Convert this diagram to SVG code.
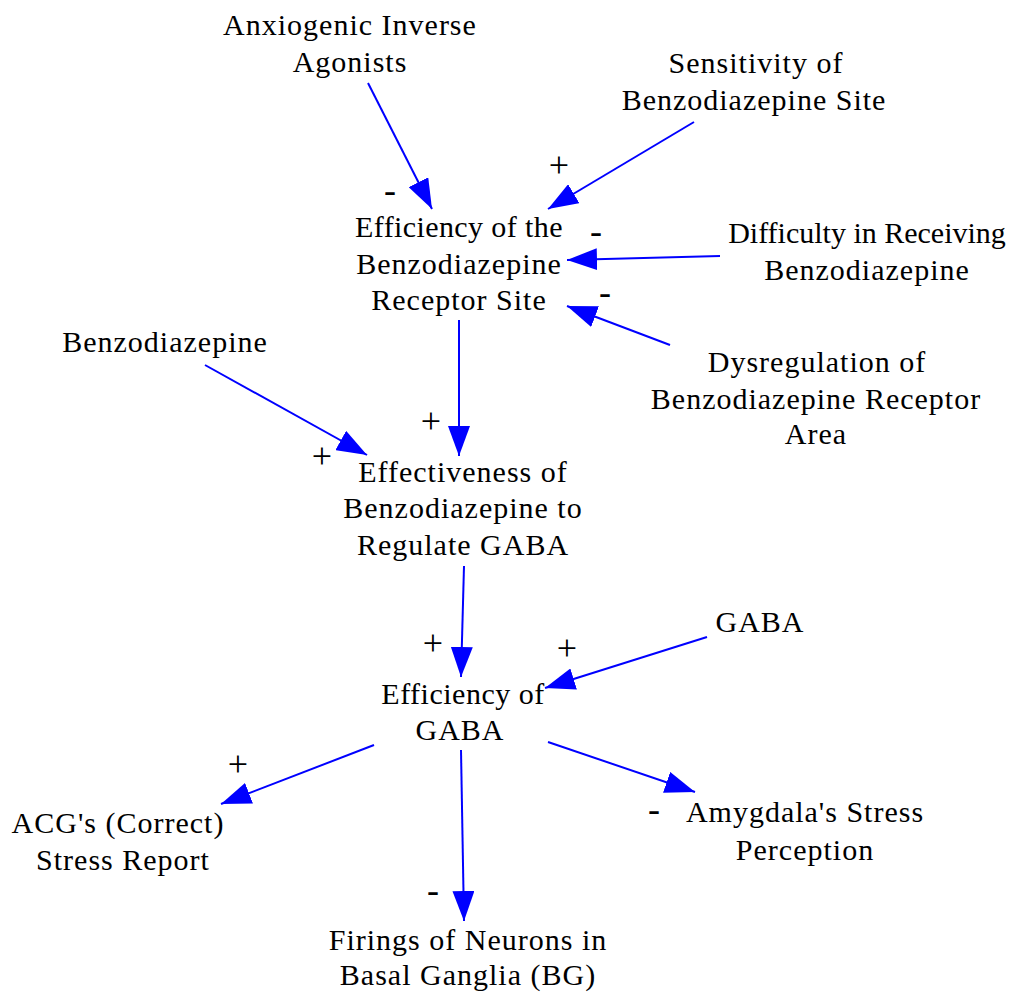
<svg xmlns="http://www.w3.org/2000/svg" width="1013" height="993" viewBox="0 0 1013 993">
<style>
.n{font-family:"Liberation Serif","Times New Roman",serif;font-size:30px;fill:#000;text-anchor:middle;letter-spacing:1px}
.s{font-family:"Liberation Serif","Times New Roman",serif;font-size:36px;fill:#000;text-anchor:middle}
.e{stroke:#0000FF;stroke-width:2;fill:none;marker-end:url(#ah)}
</style>
<defs>
<marker id="ah" viewBox="0 0 30 22" refX="30" refY="11" markerWidth="30" markerHeight="22" markerUnits="userSpaceOnUse" orient="auto">
<path d="M0,0 L30,11 L0,22 z" fill="#0000FF"/>
</marker>
</defs>
<rect width="1013" height="993" fill="#fff"/>
<g id="connectors">
<line class="e" x1="368" y1="83" x2="432" y2="209"/>
<line class="e" x1="694" y1="122" x2="548" y2="209"/>
<line class="e" x1="720" y1="256" x2="567" y2="260"/>
<line class="e" x1="670" y1="345" x2="567" y2="306"/>
<line class="e" x1="459" y1="320" x2="459" y2="456"/>
<line class="e" x1="205" y1="365" x2="367" y2="455"/>
<line class="e" x1="464" y1="566" x2="461" y2="677"/>
<line class="e" x1="707" y1="637" x2="545" y2="688"/>
<line class="e" x1="374" y1="745" x2="221" y2="804"/>
<line class="e" x1="548" y1="742" x2="695" y2="792"/>
<line class="e" x1="461" y1="750" x2="464" y2="921"/>
</g>
<g id="signs">
<text class="s" x="390" y="202">-</text>
<text class="s" x="559" y="177">+</text>
<text class="s" x="596" y="243">-</text>
<text class="s" x="605" y="304">-</text>
<text class="s" x="322" y="468">+</text>
<text class="s" x="431" y="433">+</text>
<text class="s" x="433" y="655">+</text>
<text class="s" x="567" y="660">+</text>
<text class="s" x="238" y="776">+</text>
<text class="s" x="654" y="821">-</text>
<text class="s" x="433" y="902">-</text>
</g>
<g id="anxiogenic"><text class="n" x="350" y="35">Anxiogenic Inverse</text><text class="n" x="350" y="72">Agonists</text></g>
<g id="sensitivity"><text class="n" x="756" y="73">Sensitivity of</text><text class="n" x="754" y="110">Benzodiazepine Site</text></g>
<g id="efficiency_receptor"><text class="n" x="459" y="237" style="letter-spacing:0.4px">Efficiency of the</text><text class="n" x="459" y="274">Benzodiazepine</text><text class="n" x="459" y="310">Receptor Site</text></g>
<g id="difficulty"><text class="n" x="867" y="243" style="letter-spacing:0">Difficulty in Receiving</text><text class="n" x="867" y="280">Benzodiazepine</text></g>
<g id="dysregulation"><text class="n" x="817" y="372">Dysregulation of</text><text class="n" x="816" y="409">Benzodiazepine Receptor</text><text class="n" x="816" y="444">Area</text></g>
<g id="benzodiazepine"><text class="n" x="165" y="352">Benzodiazepine</text></g>
<g id="effectiveness"><text class="n" x="463" y="482">Effectiveness of</text><text class="n" x="463" y="518">Benzodiazepine to</text><text class="n" x="463" y="555">Regulate GABA</text></g>
<g id="gaba"><text class="n" x="760" y="632">GABA</text></g>
<g id="efficiency_gaba"><text class="n" x="463" y="704" style="letter-spacing:0.5px">Efficiency of</text><text class="n" x="460" y="740">GABA</text></g>
<g id="acg"><text class="n" x="118" y="833">ACG's (Correct)</text><text class="n" x="123" y="870">Stress Report</text></g>
<g id="amygdala"><text class="n" x="805" y="822">Amygdala's Stress</text><text class="n" x="805" y="860">Perception</text></g>
<g id="firings"><text class="n" x="468" y="950">Firings of Neurons in</text><text class="n" x="468" y="985">Basal Ganglia (BG)</text></g>
</svg>
